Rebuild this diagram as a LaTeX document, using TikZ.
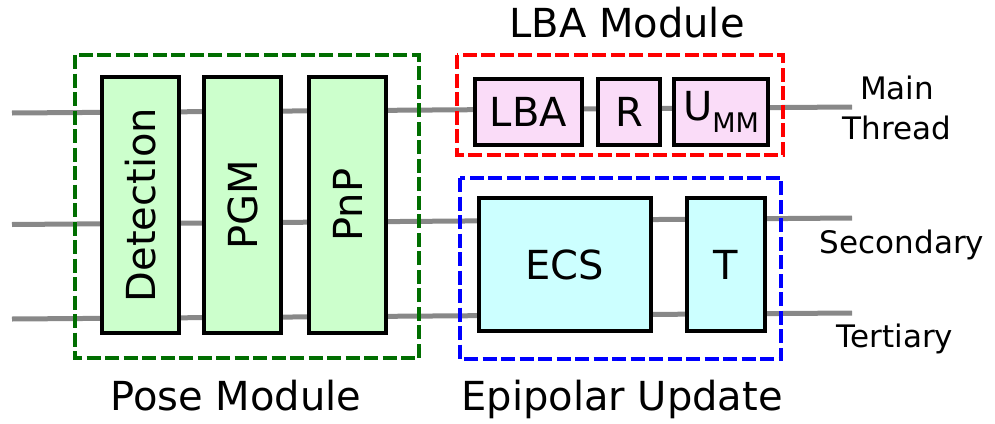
\documentclass[tikz,border=0pt]{standalone}
\usepackage{fontspec}
\setmainfont{DejaVu Sans}
\usetikzlibrary{backgrounds}
\definecolor{frgreen}{RGB}{0,110,0}
\definecolor{fillgreen}{RGB}{204,255,204}
\definecolor{fillpink}{RGB}{250,220,248}
\definecolor{fillcyan}{RGB}{204,255,255}
\definecolor{threadgray}{RGB}{136,136,136}
\tikzset{
  big/.style={font=\fontsize{40}{48}\selectfont},
  lab/.style={font=\fontsize{31}{40}\selectfont, anchor=base},
  blk/.style={draw=black, line width=4pt, inner sep=0pt, big},
  greenblk/.style={blk, fill=fillgreen, minimum width=77pt, minimum height=256pt},
  pinkblk/.style={blk, fill=fillpink, minimum height=66pt},
  cyanblk/.style={blk, fill=fillcyan, minimum height=133pt},
  thread/.style={draw=threadgray, line width=5pt},
  frame/.style={line width=4pt, dash pattern=on 14pt off 4.5pt},
}
\begin{document}
\begin{tikzpicture}[x=1pt,y=-1pt]
\useasboundingbox (0,0) rectangle (995,423);
% blocks
\node[greenblk] (det) at (140.5,205) {\rotatebox{90}{Detection}};
\node[greenblk] (pgm) at (242.5,205) {\rotatebox{90}{PGM}};
\node[greenblk] (pnp) at (347.5,205) {\rotatebox{90}{PnP}};
\node[pinkblk, minimum width=107pt] (lba) at (528.5,112) {LBA};
\node[pinkblk, minimum width=62pt] (r) at (629,112) {R};
\node[pinkblk, minimum width=94pt] (umm) at (721,112) {U\raisebox{-0.28em}{\fontsize{27}{30}\selectfont MM}};
\node[cyanblk, minimum width=172pt] (ecs) at (565,264.5) {ECS};
\node[cyanblk, minimum width=78pt] (t) at (726,264.5) {T};
% thread end points
\coordinate (m0) at (12,113);
\coordinate (m1) at (852,107);
\coordinate (s0) at (12,224.5);
\coordinate (s1) at (852,218);
\coordinate (t0) at (12,319);
\coordinate (t1) at (852,313);
\begin{scope}[on background layer]
\draw[thread] (m0) -- (m1);
\draw[thread] (s0) -- (s1);
\draw[thread] (t0) -- (t1);
\end{scope}
% frames
\draw[frame, draw=frgreen] (75,55) rectangle (419,358);
\draw[frame, draw=red] (457,55) rectangle (783,155);
\draw[frame, draw=blue] (460,178) rectangle (781,359);
% labels
\node[big, anchor=base] (lbamod) at (627,37) {LBA Module};
\node[big, anchor=base] (posemod) at (236,410) {Pose Module};
\node[big, anchor=base] (epi) at (622,410) {Epipolar Update};
\node[lab] (main) at (897,99) {Main};
\node[lab] (thr) at (897,139) {Thread};
\node[lab] (sec) at (902,253) {Secondary};
\node[lab] (ter) at (895,347) {Tertiary};
\end{tikzpicture}
\end{document}
